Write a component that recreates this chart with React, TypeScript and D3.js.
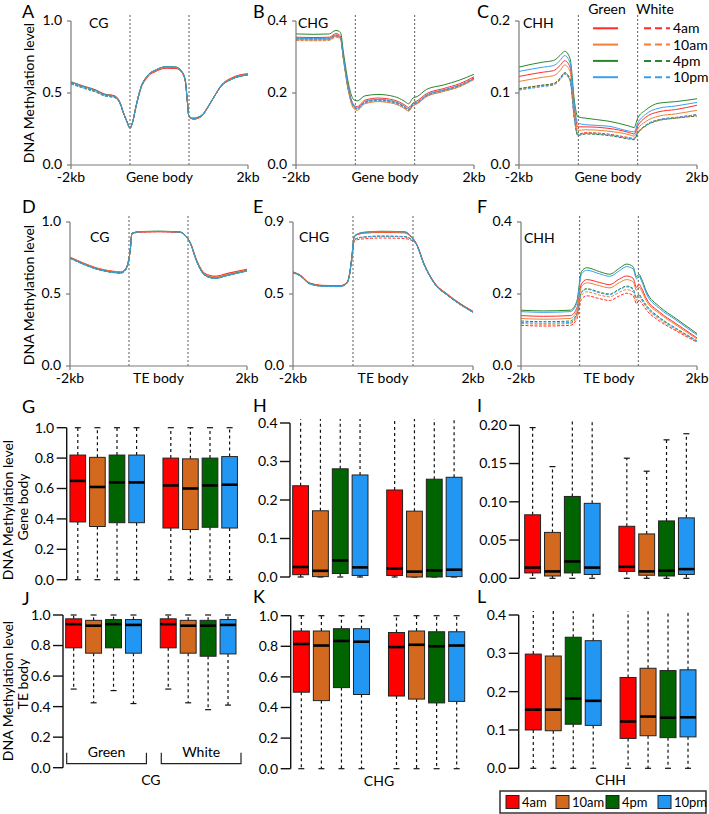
import React from "react";
import * as d3 from "d3";

// ---- categories ----
const groups = ["Green", "White"];
const times = ["4am", "10am", "4pm", "10pm"];

// ---- metaplot data: x positions (0..1 upstream, 1..2 body, 2..3 downstream) ----
// series order: Green 4am,10am,4pm,10pm then White 4am,10am,4pm,10pm
const xsA = [0, 0.2, 0.44, 0.56, 0.73, 0.82, 0.9, 0.95, 1.0, 1.04, 1.1, 1.18, 1.29, 1.45, 1.61, 1.78, 1.88, 1.94, 1.97, 2.0, 2.08, 2.22, 2.32, 2.44, 2.55, 2.72, 3.0];
const linesA = [
  [0.578, 0.55, 0.518, 0.494, 0.482, 0.445, 0.352, 0.302, 0.258, 0.292, 0.40, 0.525, 0.607, 0.652, 0.672, 0.67, 0.642, 0.575, 0.45, 0.335, 0.318, 0.34, 0.40, 0.485, 0.556, 0.605, 0.635],
  [0.576, 0.548, 0.516, 0.492, 0.48, 0.443, 0.35, 0.3, 0.256, 0.29, 0.402, 0.53, 0.613, 0.658, 0.678, 0.675, 0.645, 0.577, 0.45, 0.333, 0.32, 0.342, 0.402, 0.484, 0.553, 0.6, 0.632],
  [0.575, 0.547, 0.515, 0.491, 0.479, 0.442, 0.35, 0.3, 0.257, 0.292, 0.405, 0.535, 0.618, 0.663, 0.683, 0.68, 0.65, 0.58, 0.455, 0.338, 0.326, 0.348, 0.405, 0.484, 0.55, 0.596, 0.628],
  [0.574, 0.546, 0.514, 0.49, 0.478, 0.441, 0.349, 0.299, 0.255, 0.29, 0.403, 0.533, 0.616, 0.662, 0.682, 0.679, 0.648, 0.578, 0.452, 0.335, 0.322, 0.344, 0.403, 0.483, 0.551, 0.597, 0.629],
  [0.568, 0.54, 0.508, 0.485, 0.474, 0.44, 0.35, 0.3, 0.258, 0.292, 0.402, 0.528, 0.61, 0.655, 0.675, 0.672, 0.643, 0.576, 0.45, 0.334, 0.319, 0.341, 0.4, 0.483, 0.553, 0.601, 0.631],
  [0.565, 0.537, 0.505, 0.482, 0.471, 0.437, 0.348, 0.299, 0.256, 0.29, 0.401, 0.53, 0.614, 0.66, 0.679, 0.676, 0.646, 0.577, 0.45, 0.332, 0.318, 0.34, 0.399, 0.481, 0.55, 0.597, 0.627],
  [0.564, 0.536, 0.504, 0.481, 0.47, 0.436, 0.347, 0.298, 0.256, 0.291, 0.404, 0.534, 0.617, 0.662, 0.682, 0.679, 0.649, 0.579, 0.454, 0.336, 0.324, 0.346, 0.403, 0.482, 0.549, 0.594, 0.625],
  [0.563, 0.535, 0.503, 0.48, 0.469, 0.435, 0.346, 0.297, 0.255, 0.29, 0.403, 0.533, 0.616, 0.661, 0.681, 0.678, 0.648, 0.578, 0.452, 0.334, 0.321, 0.343, 0.401, 0.481, 0.549, 0.595, 0.626],
];

const xsB = [0, 0.3, 0.56, 0.67, 0.75, 0.8, 0.89, 0.97, 1.03, 1.16, 1.38, 1.66, 1.82, 1.9, 1.97, 2.04, 2.2, 2.48, 2.76, 3.0];
const linesB = [
  [0.355, 0.354, 0.355, 0.365, 0.358, 0.30, 0.208, 0.168, 0.162, 0.18, 0.186, 0.18, 0.168, 0.16, 0.172, 0.178, 0.198, 0.212, 0.226, 0.245],
  [0.348, 0.347, 0.348, 0.357, 0.351, 0.294, 0.2, 0.158, 0.152, 0.17, 0.176, 0.17, 0.158, 0.15, 0.164, 0.17, 0.19, 0.204, 0.218, 0.238],
  [0.364, 0.363, 0.364, 0.374, 0.368, 0.312, 0.222, 0.182, 0.178, 0.192, 0.196, 0.19, 0.178, 0.17, 0.186, 0.19, 0.21, 0.222, 0.236, 0.252],
  [0.352, 0.351, 0.352, 0.361, 0.355, 0.298, 0.206, 0.165, 0.158, 0.176, 0.182, 0.176, 0.164, 0.156, 0.17, 0.174, 0.194, 0.208, 0.222, 0.24],
  [0.352, 0.351, 0.352, 0.361, 0.354, 0.297, 0.205, 0.164, 0.158, 0.176, 0.182, 0.176, 0.164, 0.155, 0.168, 0.174, 0.194, 0.208, 0.222, 0.242],
  [0.346, 0.345, 0.346, 0.355, 0.349, 0.292, 0.2, 0.158, 0.153, 0.171, 0.177, 0.171, 0.159, 0.15, 0.165, 0.17, 0.19, 0.204, 0.218, 0.238],
  [0.35, 0.349, 0.35, 0.359, 0.353, 0.296, 0.204, 0.163, 0.157, 0.174, 0.18, 0.174, 0.162, 0.153, 0.167, 0.172, 0.192, 0.206, 0.22, 0.24],
  [0.349, 0.348, 0.349, 0.358, 0.352, 0.295, 0.203, 0.162, 0.156, 0.173, 0.179, 0.173, 0.161, 0.152, 0.166, 0.171, 0.191, 0.205, 0.219, 0.239],
];

const xsC = [0, 0.41, 0.58, 0.69, 0.77, 0.86, 0.94, 0.99, 1.12, 1.5, 1.86, 1.94, 2.0, 2.13, 2.36, 2.64, 3.0];
const linesC = [
  [0.123, 0.129, 0.131, 0.138, 0.145, 0.136, 0.073, 0.053, 0.053, 0.051, 0.045, 0.043, 0.054, 0.066, 0.074, 0.077, 0.083],
  [0.116, 0.122, 0.124, 0.131, 0.139, 0.13, 0.068, 0.048, 0.049, 0.047, 0.042, 0.04, 0.05, 0.06, 0.068, 0.071, 0.076],
  [0.136, 0.143, 0.145, 0.152, 0.158, 0.148, 0.085, 0.067, 0.065, 0.061, 0.054, 0.052, 0.065, 0.076, 0.086, 0.088, 0.092],
  [0.13, 0.136, 0.138, 0.145, 0.152, 0.142, 0.078, 0.058, 0.056, 0.054, 0.047, 0.046, 0.058, 0.07, 0.079, 0.082, 0.087],
  [0.106, 0.111, 0.113, 0.12, 0.128, 0.12, 0.062, 0.043, 0.045, 0.043, 0.038, 0.037, 0.045, 0.055, 0.063, 0.066, 0.07],
  [0.105, 0.11, 0.112, 0.119, 0.127, 0.118, 0.06, 0.042, 0.044, 0.042, 0.037, 0.036, 0.044, 0.054, 0.062, 0.065, 0.069],
  [0.106, 0.111, 0.113, 0.12, 0.128, 0.119, 0.061, 0.041, 0.043, 0.041, 0.036, 0.035, 0.044, 0.054, 0.062, 0.065, 0.068],
  [0.104, 0.109, 0.111, 0.118, 0.126, 0.117, 0.06, 0.042, 0.044, 0.042, 0.037, 0.036, 0.045, 0.055, 0.063, 0.066, 0.07],
];

const xsD = [0, 0.22, 0.44, 0.72, 0.86, 0.94, 0.98, 1.02, 1.05, 1.2, 1.5, 1.86, 1.97, 2.04, 2.15, 2.29, 2.46, 2.68, 3.0];
const linesD = [
  [0.756, 0.717, 0.683, 0.659, 0.654, 0.674, 0.712, 0.80, 0.918, 0.93, 0.932, 0.928, 0.898, 0.856, 0.732, 0.642, 0.624, 0.645, 0.672],
  [0.754, 0.714, 0.68, 0.656, 0.651, 0.672, 0.71, 0.80, 0.92, 0.932, 0.934, 0.93, 0.9, 0.854, 0.728, 0.636, 0.617, 0.638, 0.667],
  [0.75, 0.71, 0.676, 0.652, 0.647, 0.668, 0.708, 0.80, 0.922, 0.934, 0.936, 0.931, 0.901, 0.852, 0.724, 0.63, 0.61, 0.632, 0.662],
  [0.749, 0.709, 0.675, 0.651, 0.646, 0.667, 0.707, 0.80, 0.921, 0.933, 0.935, 0.93, 0.9, 0.851, 0.723, 0.629, 0.609, 0.631, 0.661],
  [0.752, 0.712, 0.678, 0.654, 0.649, 0.67, 0.709, 0.80, 0.919, 0.931, 0.933, 0.929, 0.899, 0.855, 0.73, 0.64, 0.62, 0.641, 0.669],
  [0.751, 0.711, 0.677, 0.653, 0.648, 0.669, 0.708, 0.80, 0.92, 0.932, 0.934, 0.93, 0.9, 0.853, 0.727, 0.634, 0.615, 0.636, 0.665],
  [0.748, 0.708, 0.674, 0.65, 0.645, 0.666, 0.706, 0.80, 0.921, 0.933, 0.935, 0.93, 0.9, 0.851, 0.722, 0.628, 0.608, 0.63, 0.66],
  [0.747, 0.707, 0.673, 0.649, 0.644, 0.665, 0.705, 0.80, 0.92, 0.932, 0.934, 0.929, 0.899, 0.85, 0.721, 0.627, 0.607, 0.629, 0.659],
];

const xsE = [0, 0.11, 0.28, 0.5, 0.78, 0.89, 0.94, 0.98, 1.02, 1.08, 1.19, 1.47, 1.86, 1.97, 2.05, 2.19, 2.36, 2.58, 2.86, 3.0];
const linesE = [
  [0.588, 0.571, 0.519, 0.504, 0.502, 0.519, 0.571, 0.68, 0.805, 0.822, 0.83, 0.835, 0.832, 0.806, 0.77, 0.634, 0.52, 0.447, 0.373, 0.342],
  [0.586, 0.569, 0.517, 0.502, 0.5, 0.517, 0.569, 0.68, 0.808, 0.824, 0.833, 0.838, 0.835, 0.808, 0.768, 0.632, 0.517, 0.444, 0.37, 0.339],
  [0.584, 0.567, 0.515, 0.5, 0.498, 0.515, 0.567, 0.68, 0.81, 0.826, 0.836, 0.842, 0.839, 0.81, 0.767, 0.63, 0.515, 0.442, 0.368, 0.337],
  [0.583, 0.566, 0.514, 0.499, 0.497, 0.514, 0.566, 0.68, 0.81, 0.826, 0.836, 0.841, 0.838, 0.81, 0.766, 0.629, 0.514, 0.441, 0.367, 0.336],
  [0.587, 0.57, 0.518, 0.503, 0.501, 0.518, 0.57, 0.67, 0.78, 0.79, 0.795, 0.8, 0.797, 0.785, 0.765, 0.633, 0.519, 0.446, 0.372, 0.341],
  [0.585, 0.568, 0.516, 0.501, 0.499, 0.516, 0.568, 0.67, 0.785, 0.798, 0.805, 0.81, 0.807, 0.792, 0.766, 0.631, 0.516, 0.443, 0.369, 0.338],
  [0.582, 0.565, 0.513, 0.498, 0.496, 0.513, 0.565, 0.67, 0.786, 0.8, 0.807, 0.812, 0.809, 0.793, 0.765, 0.628, 0.513, 0.44, 0.366, 0.335],
  [0.583, 0.566, 0.514, 0.499, 0.497, 0.514, 0.566, 0.67, 0.786, 0.799, 0.806, 0.811, 0.808, 0.792, 0.765, 0.629, 0.514, 0.441, 0.367, 0.336],
];

const xsF = [0, 0.38, 0.84, 0.95, 1.03, 1.12, 1.34, 1.51, 1.68, 1.8, 1.91, 1.97, 2.01, 2.05, 2.14, 2.36, 2.64, 3.0];
const linesF = [
  [0.14, 0.138, 0.14, 0.16, 0.228, 0.24, 0.232, 0.226, 0.242, 0.25, 0.244, 0.218, 0.228, 0.218, 0.186, 0.15, 0.118, 0.078],
  [0.132, 0.13, 0.132, 0.152, 0.22, 0.231, 0.223, 0.217, 0.232, 0.24, 0.234, 0.21, 0.22, 0.21, 0.18, 0.146, 0.114, 0.075],
  [0.155, 0.153, 0.155, 0.179, 0.262, 0.273, 0.262, 0.255, 0.272, 0.283, 0.276, 0.248, 0.255, 0.244, 0.206, 0.165, 0.132, 0.09],
  [0.151, 0.149, 0.151, 0.174, 0.255, 0.266, 0.256, 0.249, 0.265, 0.276, 0.27, 0.242, 0.25, 0.238, 0.2, 0.16, 0.128, 0.086],
  [0.113, 0.111, 0.113, 0.13, 0.185, 0.195, 0.187, 0.182, 0.195, 0.202, 0.196, 0.173, 0.183, 0.176, 0.155, 0.125, 0.098, 0.066],
  [0.118, 0.116, 0.118, 0.138, 0.196, 0.206, 0.197, 0.192, 0.205, 0.212, 0.206, 0.183, 0.192, 0.184, 0.162, 0.13, 0.101, 0.068],
  [0.125, 0.123, 0.125, 0.145, 0.205, 0.215, 0.205, 0.2, 0.214, 0.222, 0.215, 0.19, 0.2, 0.19, 0.168, 0.135, 0.105, 0.07],
  [0.121, 0.119, 0.121, 0.142, 0.203, 0.213, 0.203, 0.198, 0.212, 0.22, 0.213, 0.188, 0.198, 0.188, 0.165, 0.133, 0.104, 0.069],
];

// ---- box plot data: [low whisker, q1, median, q3, high whisker] ----
const boxG = [[0, 0.38, 0.65, 0.82, 1], [0, 0.35, 0.61, 0.805, 1], [0, 0.375, 0.64, 0.82, 1], [0, 0.375, 0.64, 0.82, 1], [0, 0.34, 0.62, 0.8, 1], [0, 0.33, 0.6, 0.795, 1], [0, 0.345, 0.62, 0.8, 1], [0, 0.34, 0.625, 0.81, 1]];
const boxH = [[0, 0.006, 0.026, 0.237, 0.42], [0, 0.001, 0.016, 0.172, 0.42], [0, 0.009, 0.043, 0.281, 0.42], [0, 0.004, 0.025, 0.265, 0.42], [0, 0.004, 0.022, 0.226, 0.42], [0, 0.0, 0.014, 0.171, 0.42], [0, 0.0, 0.017, 0.254, 0.42], [0, 0.001, 0.019, 0.259, 0.42]];
const boxI = [[0, 0.007, 0.014, 0.083, 0.197], [0, 0.003, 0.009, 0.06, 0.146], [0, 0.007, 0.022, 0.107, 0.21], [0, 0.005, 0.014, 0.098, 0.21], [0, 0.009, 0.015, 0.068, 0.157], [0, 0.004, 0.009, 0.058, 0.14], [0, 0.003, 0.01, 0.075, 0.181], [0, 0.005, 0.012, 0.079, 0.189]];
const boxJ = [[0.515, 0.785, 0.94, 0.975, 1], [0.425, 0.75, 0.93, 0.965, 1], [0.505, 0.785, 0.94, 0.97, 1], [0.42, 0.75, 0.935, 0.97, 1], [0.515, 0.785, 0.94, 0.975, 1], [0.425, 0.75, 0.93, 0.965, 1], [0.38, 0.73, 0.93, 0.965, 1], [0.41, 0.745, 0.935, 0.97, 1]];
const boxK = [[0, 0.5, 0.815, 0.9, 1], [0, 0.445, 0.805, 0.9, 1], [0, 0.53, 0.835, 0.915, 1], [0, 0.485, 0.83, 0.915, 1], [0, 0.475, 0.795, 0.89, 1], [0, 0.455, 0.81, 0.9, 1], [0, 0.43, 0.8, 0.895, 1], [0, 0.44, 0.805, 0.895, 1]];
const boxL = [[0, 0.1, 0.153, 0.298, 0.42], [0, 0.098, 0.153, 0.293, 0.42], [0, 0.115, 0.182, 0.342, 0.42], [0, 0.112, 0.176, 0.333, 0.42], [0, 0.078, 0.122, 0.237, 0.42], [0, 0.085, 0.135, 0.261, 0.42], [0, 0.08, 0.132, 0.255, 0.42], [0, 0.082, 0.133, 0.257, 0.42]];

// tick values
const ticks10 = [0, 0.5, 1];
const ticks04 = [0, 0.2, 0.4];
const ticks02 = [0, 0.1, 0.2];
const ticks09 = [0, 0.45, 0.9];
const boxTicks10 = [0, 0.2, 0.4, 0.6, 0.8, 1];
const boxTicks04 = [0, 0.1, 0.2, 0.3, 0.4];
const boxTicks02 = [0, 0.05, 0.1, 0.15, 0.2];

const FONT = "Lato, 'Open Sans', sans-serif";
const lineColors = ["#ff2b2b", "#ef7f36", "#2a862a", "#3a9ff0"];
const boxColors = ["#ff0000", "#d2691e", "#006400", "#2196f3"];

function LinePanel({ c, xs, lines, ticks, max, label, region }: any) {
  const x = d3.scaleLinear().domain([0, 3]).range([c.x0, c.x1]);
  const y = d3.scaleLinear().domain([0, max]).range([c.yBot, c.yTop]);
  const line = d3
    .line<number>()
    .x((d, i) => x(xs[i]))
    .y((d) => y(d))
    .curve(d3.curveMonotoneX);
  const order = [4, 5, 6, 7, 0, 1, 2, 3];
  return (
    <g fontFamily={FONT}>
      {[1, 2].map((v) => (
        <line key={v} x1={x(v)} x2={x(v)} y1={c.yTop - 6} y2={c.yBot} stroke="#333" strokeWidth={0.8} strokeDasharray="2,2" />
      ))}
      {order.map((i) => (
        <path
          key={i}
          d={line(lines[i]) || ""}
          fill="none"
          stroke={lineColors[i % 4]}
          strokeWidth={1}
          strokeDasharray={i >= 4 ? "3,1.5" : undefined}
        />
      ))}
      <line x1={c.x0} x2={c.x0} y1={c.yTop} y2={c.yBot} stroke="#7a7a7a" strokeWidth={1.2} />
      <line x1={c.x0} x2={c.x1} y1={c.yBot} y2={c.yBot} stroke="#7a7a7a" strokeWidth={1.2} />
      {ticks.map((t: number) => (
        <g key={t}>
          <line x1={c.x0 - 4} x2={c.x0} y1={y(t)} y2={y(t)} stroke="#7a7a7a" strokeWidth={1.2} />
          <text x={c.x0 - 9} y={y(t)} dy="0.3em" textAnchor="end" fontSize={14}>
            {d3.format(".1f")(t)}
          </text>
        </g>
      ))}
      {[0, 3].map((v) => (
        <line key={v} x1={x(v)} x2={x(v)} y1={c.yBot} y2={c.yBot + 4} stroke="#7a7a7a" strokeWidth={1.2} />
      ))}
      <text x={x(0)} y={c.yBot + 17} textAnchor="middle" fontSize={14}>-2kb</text>
      <text x={x(1.5)} y={c.yBot + 17} textAnchor="middle" fontSize={14}>{region}</text>
      <text x={x(3)} y={c.yBot + 17} textAnchor="middle" fontSize={14}>2kb</text>
      <text x={c.lx} y={c.ly} fontSize={14}>{label}</text>
    </g>
  );
}

function BoxPanel({ c, data, ticks, max, fmt, label, brackets }: any) {
  const y = d3.scaleLinear().domain([0, max]).range([c.yBot, c.yTop]);
  const outer = d3.scaleBand().domain(groups).range([c.b0, c.b1]).paddingInner(0.157);
  const inner = d3.scaleBand().domain(times).range([0, outer.bandwidth()]).paddingInner(0.2).paddingOuter(0.1);
  const w = inner.bandwidth();
  return (
    <g fontFamily={FONT}>
      {data.map((d: number[], i: number) => {
        const bx = (outer(groups[Math.floor(i / 4)]) || 0) + (inner(times[i % 4]) || 0);
        const cx = bx + w / 2;
        const [lo, q1, med, q3, hi] = d;
        const hiClip = hi > max;
        const yHi = hiClip ? y(max) - 4 : y(hi);
        return (
          <g key={i}>
            <line x1={cx} x2={cx} y1={y(q3)} y2={yHi} stroke="#111" strokeWidth={1.2} strokeDasharray="3,3" />
            <line x1={cx} x2={cx} y1={y(q1)} y2={y(lo)} stroke="#111" strokeWidth={1.2} strokeDasharray="3,3" />
            {!hiClip && <line x1={cx - 3} x2={cx + 3} y1={y(hi)} y2={y(hi)} stroke="#111" strokeWidth={1.2} />}
            <line x1={cx - 3} x2={cx + 3} y1={y(lo)} y2={y(lo)} stroke="#111" strokeWidth={1.2} />
            <rect x={bx} y={y(q3)} width={w} height={Math.max(0.5, y(q1) - y(q3))} fill={boxColors[i % 4]} stroke="#222" strokeWidth={1} />
            <line x1={bx} x2={bx + w} y1={y(med)} y2={y(med)} stroke="#000" strokeWidth={2.6} />
          </g>
        );
      })}
      <line x1={c.ax} x2={c.ax} y1={c.yTop} y2={c.yBot} stroke="#111" strokeWidth={1.4} />
      {ticks.map((t: number) => (
        <g key={t}>
          <line x1={c.ax - 10} x2={c.ax} y1={y(t)} y2={y(t)} stroke="#111" strokeWidth={1.4} />
          <text x={c.ax - 12.5} y={y(t)} dy="0.35em" textAnchor="end" fontSize={14}>
            {d3.format(fmt)(t)}
          </text>
        </g>
      ))}
      {brackets &&
        groups.map((g) => {
          const gx0 = (outer(g) || 0) + 3;
          const gx1 = (outer(g) || 0) + outer.bandwidth() + 3;
          return (
            <g key={g}>
              <path d={`M${gx0},${c.yBot - 15}V${c.yBot - 4}H${gx1}V${c.yBot - 15}`} fill="none" stroke="#222" strokeWidth={1.2} />
              <text x={(gx0 + gx1) / 2} y={c.yBot - 11} textAnchor="middle" fontSize={14}>{g}</text>
            </g>
          );
        })}
      {label && (
        <text x={(c.b0 + c.b1) / 2} y={c.yBot + 17} textAnchor="middle" fontSize={14}>{label}</text>
      )}
    </g>
  );
}

const letters = [
  ["A", 22, 18], ["B", 253, 18], ["C", 477, 18],
  ["D", 22, 213], ["E", 253, 213], ["F", 477, 213],
  ["G", 22, 413], ["H", 253, 412], ["I", 477, 412],
  ["J", 22, 605], ["K", 253, 603], ["L", 477, 603],
];

export default function App() {
  const legendRows = [28.3, 44.6, 60.9, 77.2];
  const keyX = [506, 556, 606, 658];
  return (
    <svg width={709} height={814} style={{ position: "absolute", left: 0, top: 0, background: "#fff" }}>
      <rect width={709} height={814} fill="#fff" />
      <LinePanel c={{ x0: 71, x1: 248, yTop: 21, yBot: 165, lx: 89, ly: 28 }} xs={xsA} lines={linesA} ticks={ticks10} max={1} label="CG" region="Gene body" />
      <LinePanel c={{ x0: 296, x1: 474, yTop: 21, yBot: 165, lx: 298, ly: 28 }} xs={xsB} lines={linesB} ticks={ticks04} max={0.4} label="CHG" region="Gene body" />
      <LinePanel c={{ x0: 519, x1: 697, yTop: 21, yBot: 165, lx: 523, ly: 28 }} xs={xsC} lines={linesC} ticks={ticks02} max={0.2} label="CHH" region="Gene body" />
      <LinePanel c={{ x0: 70, x1: 247, yTop: 222, yBot: 366, lx: 90, ly: 242 }} xs={xsD} lines={linesD} ticks={ticks10} max={1} label="CG" region="TE body" />
      <LinePanel c={{ x0: 293, x1: 473, yTop: 222, yBot: 366, lx: 299, ly: 242 }} xs={xsE} lines={linesE} ticks={ticks09} max={0.9} label="CHG" region="TE body" />
      <LinePanel c={{ x0: 521, x1: 697, yTop: 222, yBot: 366, lx: 524, ly: 243 }} xs={xsF} lines={linesF} ticks={ticks04} max={0.4} label="CHH" region="TE body" />

      {/* metaplot legend */}
      <g fontFamily={FONT} fontSize={14}>
        <text x={607} y={14} textAnchor="middle">Green</text>
        <text x={655} y={14} textAnchor="middle">White</text>
        {times.map((t, i) => (
          <g key={t}>
            <line x1={593} x2={618} y1={legendRows[i]} y2={legendRows[i]} stroke={lineColors[i]} strokeWidth={2} />
            <line x1={644} x2={670} y1={legendRows[i]} y2={legendRows[i]} stroke={lineColors[i]} strokeWidth={2} strokeDasharray="7,4" />
            <text x={673} y={legendRows[i]} dy="0.35em">{t}</text>
          </g>
        ))}
      </g>

      <BoxPanel c={{ ax: 66.7, yTop: 427.7, yBot: 579.7, b0: 68, b1: 239.4 }} data={boxG} ticks={boxTicks10} max={1} fmt=".1f" />
      <BoxPanel c={{ ax: 290, yTop: 423, yBot: 577, b0: 290.7, b1: 464 }} data={boxH} ticks={boxTicks04} max={0.4} fmt=".1f" />
      <BoxPanel c={{ ax: 519.3, yTop: 425.3, yBot: 578.3, b0: 522.7, b1: 696.3 }} data={boxI} ticks={boxTicks02} max={0.2} fmt=".2f" />
      <BoxPanel c={{ ax: 63, yTop: 615, yBot: 767.7, b0: 63.7, b1: 238 }} data={boxJ} ticks={boxTicks10} max={1} fmt=".1f" label="CG" brackets />
      <BoxPanel c={{ ax: 290.7, yTop: 615.7, yBot: 768.7, b0: 291.3, b1: 466.7 }} data={boxK} ticks={boxTicks10} max={1} fmt=".1f" label="CHG" />
      <BoxPanel c={{ ax: 518.7, yTop: 615, yBot: 768.3, b0: 523.3, b1: 698 }} data={boxL} ticks={boxTicks04} max={0.4} fmt=".1f" label="CHH" />

      {/* axis titles */}
      <g fontFamily={FONT} fontSize={14} textAnchor="middle">
        <text transform="translate(34,93) rotate(-90)">DNA Methylation level</text>
        <text transform="translate(34,295) rotate(-90)">DNA Methylation level</text>
        <text transform="translate(12.5,510) rotate(-90)">DNA Methylation level</text>
        <text transform="translate(28,507) rotate(-90)">Gene body</text>
        <text transform="translate(12.5,691) rotate(-90)">DNA Methylation level</text>
        <text transform="translate(28,684) rotate(-90)">TE body</text>
      </g>

      {/* panel letters */}
      <g fontFamily={FONT} fontSize={18}>
        {letters.map(([l, x, y]) => (
          <text key={l as string} x={x as number} y={y as number}>{l}</text>
        ))}
      </g>

      {/* box legend */}
      <g fontFamily={FONT} fontSize={13}>
        <rect x={500} y={791} width={206} height={22} fill="#fff" stroke="#333" strokeWidth={1.5} />
        {times.map((t, i) => (
          <g key={t}>
            <rect x={keyX[i]} y={795.5} width={13} height={13} fill={boxColors[i]} stroke="#222" strokeWidth={1} />
            <text x={keyX[i] + 16} y={802} dy="0.35em">{t}</text>
          </g>
        ))}
      </g>
    </svg>
  );
}
